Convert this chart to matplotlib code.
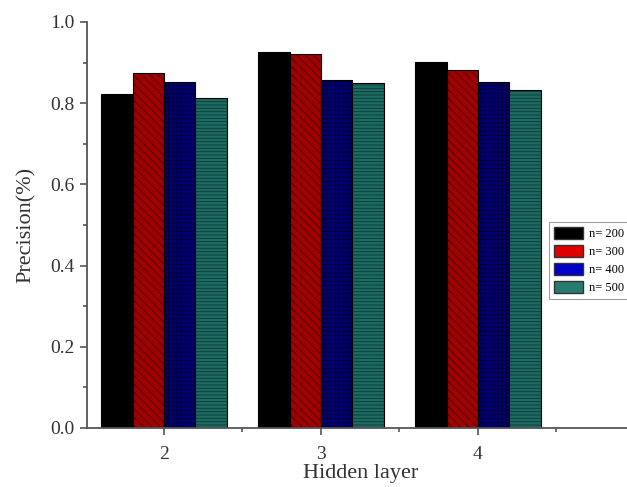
import matplotlib
matplotlib.use("Agg")
import matplotlib.pyplot as plt
import numpy as np
from matplotlib.ticker import MultipleLocator

plt.rcParams['font.family'] = ['Liberation Serif', 'DejaVu Serif']
plt.rcParams['hatch.linewidth'] = 0.6

layers = [2, 3, 4]
series_labels = ["n= 200", "n= 300", "n= 400", "n= 500"]
n200 = [0.823, 0.926, 0.901]
n300 = [0.875, 0.921, 0.882]
n400 = [0.851, 0.856, 0.852]
n500 = [0.814, 0.849, 0.833]
series = [n200, n300, n400, n500]

faces = ["#000000", "#a00000", "#000070", "#1d6a62"]
legend_faces = ["#000000", "#e00000", "#0000c8", "#267a70"]
hatches = [None, "\\\\\\\\", "++++", "-----"]
hatch_colors = ["#000000", "#400000", "#000030", "#0c3a36"]

fig = plt.figure(figsize=(6.27, 4.87), dpi=100)
ax = fig.add_axes([87/627, 59/487, (635-87)/627, 406/487])

width = 0.2
offsets = [-0.3, -0.1, 0.1, 0.3]
x = np.array(layers, dtype=float)
handles = []
for vals, off, fc, lfc, h, hc, lab in zip(series, offsets, faces, legend_faces, hatches, hatch_colors, series_labels):
    bars = ax.bar(x + off, vals, width=width, color=fc, edgecolor="black", linewidth=0.8, zorder=2)
    if h:
        for b in bars:
            b.set_hatch(h)
            b._hatch_color = matplotlib.colors.to_rgba(hc)
    handles.append(matplotlib.patches.Patch(facecolor=lfc, edgecolor="#333333", label=lab))

ax.set_xlim(1.51, 5.0)
ax.set_ylim(0, 1.0)
ax.set_xticks(layers)
ax.xaxis.set_minor_locator(MultipleLocator(0.5))
ax.yaxis.set_major_locator(MultipleLocator(0.2))
ax.yaxis.set_minor_locator(MultipleLocator(0.1))
ax.yaxis.set_major_formatter(matplotlib.ticker.FormatStrFormatter('%.1f'))
for s in ["top", "right"]:
    ax.spines[s].set_visible(False)
for s in ["left", "bottom"]:
    ax.spines[s].set_color("#555555")
    ax.spines[s].set_linewidth(1.3)
ax.tick_params(which="both", direction="out", colors="#555555", labelcolor="#333333", labelsize=14, width=1.2)
ax.tick_params(which="major", length=5)
ax.tick_params(which="minor", length=3)
ax.tick_params(axis="x", which="major", pad=8)
ax.tick_params(axis="y", which="major", pad=4)
ax.set_xlabel("Hidden layer", fontsize=16, color="#333333", labelpad=1)
ax.set_ylabel("Precision(%)", fontsize=16, color="#333333", labelpad=10)

leg = fig.legend(handles=handles, loc="upper left", bbox_to_anchor=(549/627, 1 - 222/487),
                 fontsize=9, frameon=True, fancybox=False, edgecolor="#888888",
                 handlelength=2.3, handleheight=1.04, labelspacing=0.4, borderpad=0.4,
                 handletextpad=0.5, borderaxespad=0)
leg.get_frame().set_linewidth(0.8)

fig.savefig("out.png", dpi=100)
